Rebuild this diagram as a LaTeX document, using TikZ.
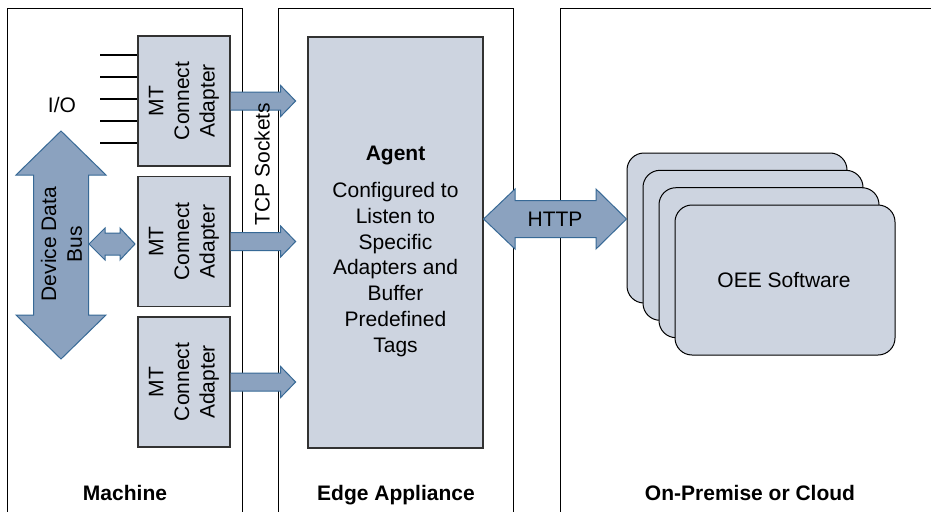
\documentclass[tikz,border=0pt]{standalone}
\usepackage{fontspec}
\setmainfont{Liberation Sans}
\usetikzlibrary{calc}
\definecolor{boxfill}{RGB}{205,212,224}
\definecolor{boxline}{RGB}{50,50,50}
\definecolor{arrowfill}{RGB}{139,162,191}
\definecolor{arrowline}{RGB}{55,105,150}
\begin{document}
\begin{tikzpicture}[x=1pt,y=-1pt,
  panel/.style={draw=black,line width=0.9pt},
  box/.style={draw=boxline,fill=boxfill,line width=1.2pt,inner sep=0pt},
  barrow/.style={draw=arrowline,fill=arrowfill,line width=1pt,line join=miter},
  lbl/.style={font=\fontsize{21}{25.7}\selectfont,align=center,inner sep=0pt},
  blbl/.style={font=\fontsize{21}{25.7}\selectfont\bfseries,align=center,inner sep=0pt},
  ioline/.style={draw=black,line width=1.8pt},
  card/.style={draw=black,fill=boxfill,line width=1pt,rounded corners=17pt,minimum width=220pt,minimum height=150pt,inner sep=0pt}]
\useasboundingbox (0,0) rectangle (931,511);
\fill[white] (0,0) rectangle (931,511);
% panels
\draw[panel] (7,520) -- (7,8) -- (242,8) -- (242,520);
\draw[panel] (278,520) -- (278,8) -- (513,8) -- (513,520);
\draw[panel] (560,520) -- (560,8) -- (940,8);
\node[blbl,anchor=base] (machine) at (125,500.5) {Machine};
\node[blbl,anchor=base] (edge) at (396,500.5) {Edge Appliance};
\node[blbl,anchor=base] (cloud) at (750,500.5) {On-Premise or Cloud};
% adapters
\node[box,lbl,rotate=90,minimum width=130pt,minimum height=92pt] (ad1) at (184,101) {MT\\Connect\\Adapter};
\node[box,lbl,rotate=90,minimum width=130pt,minimum height=92pt] (ad2) at (184,241.5) {MT\\Connect\\Adapter};
\node[box,lbl,rotate=90,minimum width=130pt,minimum height=92pt] (ad3) at (184,382) {MT\\Connect\\Adapter};
% agent
\node[box,minimum width=175pt,minimum height=411pt] (agent) at (395.5,242.5) {};
\node[blbl] (agenttitle) at (395.5,155) {Agent};
\node[lbl] (agenttext) at (395.5,269.5) {Configured to\\Listen to\\Specific\\Adapters and\\Buffer\\Predefined\\Tags};
% I/O lines
\node[lbl] (io) at (62,105) {I/O};
\foreach \yy in {55,77,99,121,143} {\draw[ioline] (100,\yy) -- (ad1.north |- 0,\yy);}
% TCP arrows
\foreach \a in {ad1,ad2,ad3} {
  \path (\a.south) coordinate (s);
  \draw[barrow] ($(s)+(0,-9)$) -- ($(s)+(50,-9)$) -- ($(s)+(50,-15.5)$) -- ($(s)+(65,0)$) -- ($(s)+(50,15.5)$) -- ($(s)+(50,9)$) -- ($(s)+(0,9)$);
}
\node[lbl,rotate=90] (tcp) at (262,164) {TCP Sockets};
% device data bus
\draw[barrow] (61,131) -- (106,175) -- (88.5,175) -- (88.5,315) -- (106,315) -- (61,359) -- (16,315) -- (33.5,315) -- (33.5,175) -- (16,175) -- cycle;
\node[lbl,rotate=90] (bus) at (61.5,244) {Device Data\\Bus};
% small double arrow
\draw[barrow] (89,244) -- (105,228) -- (105,233) -- (120,233) -- (120,228) -- (135,244) -- (120,260) -- (120,255) -- (105,255) -- (105,260) -- cycle;
% cards
\node[card] (card1) at (737,228) {};
\node[card] (card2) at (753,245.3) {};
\node[card] (card3) at (769,262.7) {};
\node[card] (card4) at (785,280) {};
\node[lbl] (oee) at (784,280) {OEE Software};
% HTTP arrow
\draw[barrow] (agent.east |- 0,219) -- (515,189) -- (515,200.5) -- (596,200.5) -- (596,189) -- (card1.west |- 0,219) -- (596,249) -- (596,237.5) -- (515,237.5) -- (515,249) -- cycle;
\node[lbl] (http) at (555,219) {HTTP};
\end{tikzpicture}
\end{document}
